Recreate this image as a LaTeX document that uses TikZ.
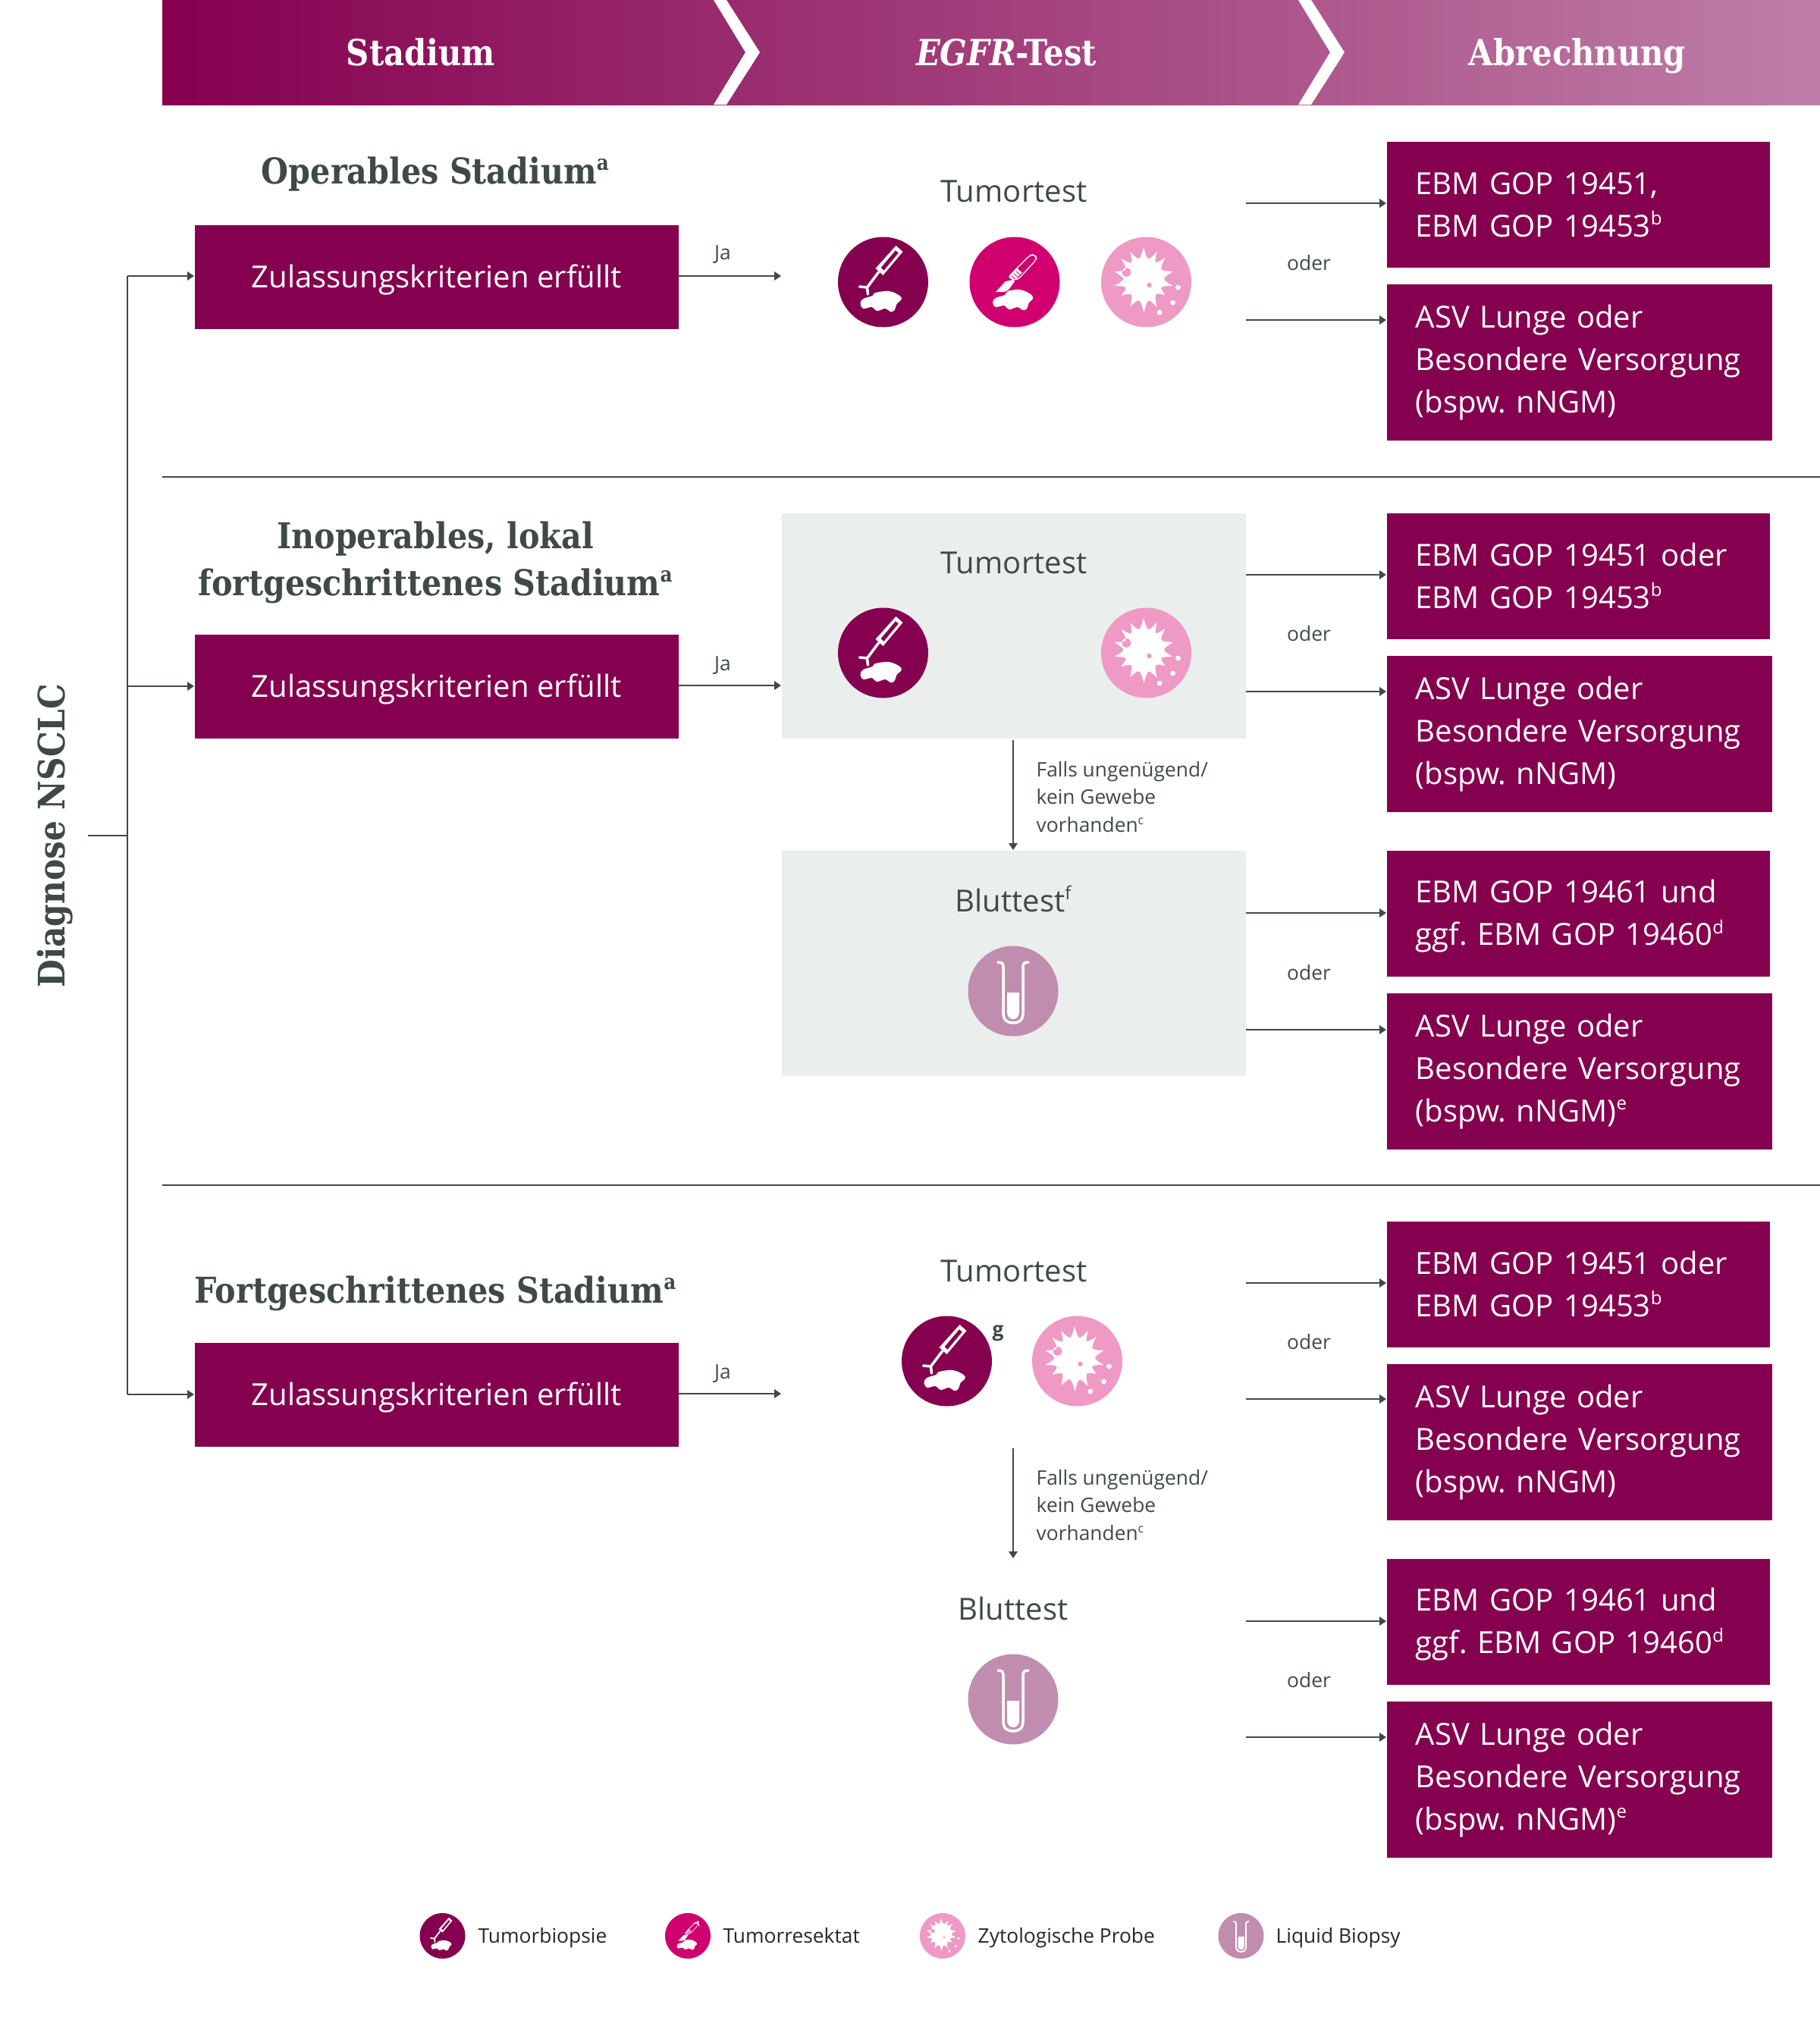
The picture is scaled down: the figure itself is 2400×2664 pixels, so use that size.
\documentclass[tikz,border=0pt]{standalone}
\usepackage{fontspec}
\usetikzlibrary{arrows.meta}
\setmainfont{Open Sans}
\newfontfamily\slab[FakeStretch=0.88]{DejaVu Serif}
\newcommand\bodyf{\frenchspacing\fontsize{11.4}{15.93}\selectfont}
\newcommand\tumf{\frenchspacing\fontsize{11.4}{15.93}\selectfont}
\newcommand\smallf{\frenchspacing\fontsize{7.5}{10.3}\selectfont}
\newcommand\headf{\slab\bfseries\fontsize{13.5}{17}\selectfont}
\newcommand\titlef{\slab\bfseries\fontsize{13.35}{17.8}\selectfont}
\newcommand\diagf{\slab\bfseries\fontsize{13.7}{17.8}\selectfont}
\newcommand\sups[1]{\raisebox{.38em}{\scalebox{.6}{#1}}}
\newcommand\strA{\rule[-.8mm]{0pt}{4.5mm}}
\newcommand\strB{\rule[-1.1mm]{0pt}{4.3mm}}
\definecolor{brand}{HTML}{85004F}
\definecolor{magent}{HTML}{D0006F}
\definecolor{pinky}{HTML}{EE9AC4}
\definecolor{mauve}{HTML}{C08DAF}
\definecolor{panel}{HTML}{EAEEED}
\definecolor{ink}{HTML}{3F4A47}
\definecolor{gradend}{HTML}{BF7EA8}
\tikzset{
  x=0.1mm,y=-0.1mm,
  conn/.style={draw=ink,line width=.2mm,-{Triangle[length=.9mm,width=1.15mm]}},
  plainconn/.style={draw=ink,line width=.2mm},
  rule/.style={draw=ink,line width=.2mm},
  ebm/.style={fill=brand,text=white,inner xsep=3.8mm,inner ysep=0pt,text width=42.9mm,align=left,anchor=north west,font=\bodyf},
  ebmtwo/.style={ebm,minimum height=16.6mm,execute at begin node={\strA},execute at end node={\strA}},
  ebmthree/.style={ebm,text width=43.2mm,minimum height=20.6mm,execute at begin node={\strB},execute at end node={\strB}},
  crit/.style={fill=brand,text=white,inner sep=0pt,minimum width=63.8mm,minimum height=13.7mm,text height=3.2mm,text depth=.4mm,anchor=north west,font=\bodyf},
  panelbox/.style={fill=panel,inner sep=0pt,minimum width=61.2mm,minimum height=29.7mm,anchor=north west},
  small/.style={text=ink,font=\smallf,inner sep=0pt,anchor=base},
  tum/.style={text=ink,font=\tumf,inner sep=0pt,anchor=base},
  heading/.style={text=white,font=\headf,inner sep=0pt,anchor=base},
  ttl/.style={text=ink,font=\titlef,inner sep=0pt,anchor=base},
  ico/.style={circle,inner sep=0pt,minimum size=11.9mm},
  lego/.style={circle,inner sep=0pt,minimum size=6mm},
  bigi/.style={line width=.35mm},
  smalli/.style={scale=.5,line width=.18mm},
  legt/.style={text=black!85,font=\smallf,inner sep=0pt,anchor=base west},
  pics/biopsy/.style={code={
    \fill[white,even odd rule] (17,-48)--(26,-40)--(0,-9)--(-10,-18)--cycle
      (16.5,-42)--(20.5,-38.5)--(1,-15)--(-3,-19)--cycle;
    \draw[white,line cap=round] (-6,-13)--(-21,7) (-31,6)--(-21,7)--(-20,16);
    \fill[white] plot[smooth cycle,tension=.6] coordinates {(-30,28)(-26,22)(-14,18)(-10,14)(8,12)(22,18)(24,23)(18,29)(15,37)(10,39)(2.5,35)(-8,38)(-15,33)(-26,35)};
  }},
  pics/scalpel/.style={code={
    \draw[white,rounded corners=1.5,line width=.6\pgflinewidth] (19.6,-35)--(27,-37)--(29,-30)--(3,-2)--(-9,-6)--cycle;
    \fill[white] (-8,-7)--(3,-19)--(10,-13)--(1,-3)--cycle;
    \foreach \t in {0,.3,.6,.9}{\draw[magent,line width=.08mm] ({-4+\t*10},{-8-\t*10})--({1+\t*10},{-4-\t*10});}
    \fill[white] (-2,-3)--(-12,-1)--(-25,13)--(-15,13) .. controls (-9,12) .. (0,-1)--cycle;
    \fill[white] plot[smooth cycle,tension=.6] coordinates {(-29,27)(-25,21)(-13,17)(-9,12)(7,10)(21,16)(24,22)(19,27)(16,35)(11,37)(4,33)(-7,36)(-14,31)(-25,33)};
  }},
  pics/cyto/.style={code={
    \fill[white,even odd rule] (-3.6,-46) .. controls (1.9,-27) .. (14,-40) .. controls (10.5,-22.8) .. (25,-32)
      .. controls (16.8,-15) .. (35,-14) .. controls (19.8,-3.9) .. (35,5) .. controls (16.8,5.4) .. (25,17)
      .. controls (10.5,13.8) .. (14,33) .. controls (2.1,20.7) .. (-3,40) .. controls (-8.4,20.4) .. (-21,32)
      .. controls (-17.4,13.8) .. (-33,18) .. controls (-23.7,5.7) .. (-42,5) .. controls (-26.4,-3.9) .. (-42,-14)
      .. controls (-23.7,-14.7) .. (-33,-31) .. controls (-17.4,-22.5) .. (-21,-40) .. controls (-8.6,-27) .. (-3.6,-46) -- cycle
      (-26,-13) circle (6) (4,4) circle (3.4);
    \fill[white] (42,7) circle (3.4) (35,27) circle (3.4) (17.5,40) circle (3.4);
  }},
  pics/tube/.style={code={
    \draw[white,line cap=round] (-20,-38) .. controls (-14,-38) and (-13,-36) .. (-13,-31) -- (-13,29)
      .. controls (-13,39) and (-7,42) .. (0,42) .. controls (7,42) and (13,39) .. (13,29) -- (13,-31)
      .. controls (13,-36) and (14,-38) .. (20,-38);
    \fill[white] (-8,2)--(8,2)--(8,28) .. controls (8,34) and (4,37) .. (0,37) .. controls (-4,37) and (-8,34) .. (-8,28)--cycle;
  }},
}
\begin{document}
\begin{tikzpicture}
\useasboundingbox (0,0) rectangle (2400,2664);
% header band
\shade[left color=brand,right color=gradend] (214,0) rectangle (2400,138);
\fill[white] (941,0)--(958,0)--(1002,69)--(958,138)--(941,138)--(983,69)--cycle;
\fill[white] (1712,0)--(1729,0)--(1773,69)--(1729,138)--(1712,138)--(1754,69)--cycle;
\node[heading] (hA) at (555,86) {Stadium};
\node[heading] (hB) at (1327,86) {\textit{EGFR}-Test};
\node[heading] (hC) at (2080,86) {Abrechnung};
% dividers
\coordinate (d1a) at (214,628.5); \coordinate (d1b) at (2400,628.5);
\coordinate (d2a) at (214,1562.5); \coordinate (d2b) at (2400,1562.5);
\draw[rule] (d1a)--(d1b); \draw[rule] (d2a)--(d2b);
% left label and trunk
\node[ttl,font=\diagf,rotate=90] (diag) at (85,1102) {Diagnose NSCLC};
\coordinate (st) at (116,1102); \coordinate (tr) at (168,1102);
\coordinate (tr1) at (168,364); \coordinate (tr2) at (168,905); \coordinate (tr3) at (168,1839);
% panels
\node[panelbox] (p1) at (1030,676) {};
\node[panelbox] (p2) at (1030,1121) {};
% section titles
\node[ttl] (t1) at (574,242) {Operables Stadium\sups{a}};
\node[ttl] (t2a) at (574,723) {Inoperables, lokal};
\node[ttl] (t2b) at (574,785) {fortgeschrittenes Stadium\sups{a}};
\node[ttl] (t3) at (574,1718) {Fortgeschrittenes Stadium\sups{a}};
% criteria boxes
\node[crit] (c1) at (256,296) {Zulassungskriterien erfüllt};
\node[crit] (c2) at (256,836) {Zulassungskriterien erfüllt};
\node[crit] (c3) at (256,1770) {Zulassungskriterien erfüllt};
\draw[plainconn] (st)--(tr);
\draw[plainconn] (tr)--(tr1);
\draw[plainconn] (tr)--(tr3);
\draw[conn] (tr1)--(c1.west|-tr1);
\draw[conn] (tr2)--(c2.west|-tr2);
\draw[conn] (tr3)--(c3.west|-tr3);
% Ja connectors
\coordinate (j1) at (1030,364); \coordinate (j2) at (1030,904); \coordinate (j3) at (1030,1838);
\draw[conn] (c1.east|-j1)--(j1);
\draw[conn] (c2.east|-j2)--(j2);
\draw[conn] (c3.east|-j3)--(j3);
\node[small] (ja1) at (953,342) {Ja};
\node[small] (ja2) at (953,884) {Ja};
\node[small] (ja3) at (953,1818) {Ja};
% test labels
\node[tum] (tt1) at (1337,266) {Tumortest};
\node[tum] (tt2) at (1337,756) {Tumortest};
\node[tum] (tt3) at (1337,1690) {Tumortest};
\node[tum] (bt2) at (1336,1202) {Bluttest\sups{f}};
\node[tum] (bt3) at (1336,2136) {Bluttest};
% icons
\node[ico,fill=brand] (i1) at (1164.5,372) {}; \pic[bigi] at (i1) {biopsy};
\node[ico,fill=magent] (i2) at (1338,372) {}; \pic[bigi] at (i2) {scalpel};
\node[ico,fill=pinky] (i3) at (1511.5,372) {}; \pic[bigi] at (i3) {cyto};
\node[ico,fill=brand] (i4) at (1164.5,861) {}; \pic[bigi] at (i4) {biopsy};
\node[ico,fill=pinky] (i5) at (1511.5,861) {}; \pic[bigi] at (i5) {cyto};
\node[ico,fill=mauve] (i6) at (1336,1307) {}; \pic[bigi] at (i6) {tube};
\node[ico,fill=brand] (i7) at (1248.5,1795) {}; \pic[bigi] at (i7) {biopsy};
\node[ico,fill=pinky] (i8) at (1420.5,1795) {}; \pic[bigi] at (i8) {cyto};
\node[ico,fill=mauve] (i9) at (1336,2241) {}; \pic[bigi] at (i9) {tube};
\node[small,font=\bfseries\smallf,anchor=center] (g) at (1316,1758) {g};
% billing boxes
\node[ebmtwo] (b11) at (1828,186) {EBM GOP 19451,\\EBM GOP 19453\sups{b}};
\node[ebmthree] (b12) at (1828,374) {ASV Lunge oder\\Besondere Versorgung\\(bspw. nNGM)};
\node[ebmtwo] (b21) at (1828,676) {EBM GOP 19451 oder\\EBM GOP 19453\sups{b}};
\node[ebmthree] (b22) at (1828,864) {ASV Lunge oder\\Besondere Versorgung\\(bspw. nNGM)};
\node[ebmtwo] (b23) at (1828,1121) {EBM GOP 19461 und\\ggf. EBM GOP 19460\sups{d}};
\node[ebmthree] (b24) at (1828,1309) {ASV Lunge oder\\Besondere Versorgung\\(bspw. nNGM)\sups{e}};
\node[ebmtwo] (b31) at (1828,1610) {EBM GOP 19451 oder\\EBM GOP 19453\sups{b}};
\node[ebmthree] (b32) at (1828,1798) {ASV Lunge oder\\Besondere Versorgung\\(bspw. nNGM)};
\node[ebmtwo] (b33) at (1828,2055) {EBM GOP 19461 und\\ggf. EBM GOP 19460\sups{d}};
\node[ebmthree] (b34) at (1828,2243) {ASV Lunge oder\\Besondere Versorgung\\(bspw. nNGM)\sups{e}};
% right arrows
\foreach \n/\yy in {a1/268,a2/422,a3/758,a4/912,a5/1204,a6/1358,a7/1692,a8/1845,a9/2138,a10/2291}{
  \coordinate (\n) at (1643,\yy);
  \coordinate (\n e) at (1828,\yy);
  \draw[conn] (\n)--(\n e);
}
\foreach \n/\yy in {o1/356,o2/845,o3/1292,o4/1779,o5/2225}{
  \node[small] (\n) at (1726,\yy) {oder};
}
% vertical connectors
\coordinate (v1) at (1336,976);
\draw[conn] (v1)--(p2.north-|v1);
\coordinate (v2a) at (1336,1910); \coordinate (v2b) at (1336,2055);
\draw[conn] (v2a)--(v2b);
\node[small,anchor=west,align=left] (f1) at (1366,1051) {Falls ungenügend/\\kein Gewebe\\vorhanden\sups{c}};
\node[small,anchor=west,align=left] (f2) at (1366,1985) {Falls ungenügend/\\kein Gewebe\\vorhanden\sups{c}};
% legend
\node[lego,fill=brand] (l1) at (583.5,2553) {}; \pic[smalli] at (l1) {biopsy};
\node[lego,fill=magent] (l2) at (907,2553) {}; \pic[smalli] at (l2) {scalpel};
\node[lego,fill=pinky] (l3) at (1243,2553) {}; \pic[smalli] at (l3) {cyto};
\node[lego,fill=mauve] (l4) at (1636.5,2553) {}; \pic[smalli] at (l4) {tube};
\node[legt] (lt1) at (630,2562) {Tumorbiopsie};
\node[legt] (lt2) at (953,2562) {Tumorresektat};
\node[legt] (lt3) at (1289,2562) {Zytologische Probe};
\node[legt] (lt4) at (1682,2562) {Liquid Biopsy};
\end{tikzpicture}
\end{document}
